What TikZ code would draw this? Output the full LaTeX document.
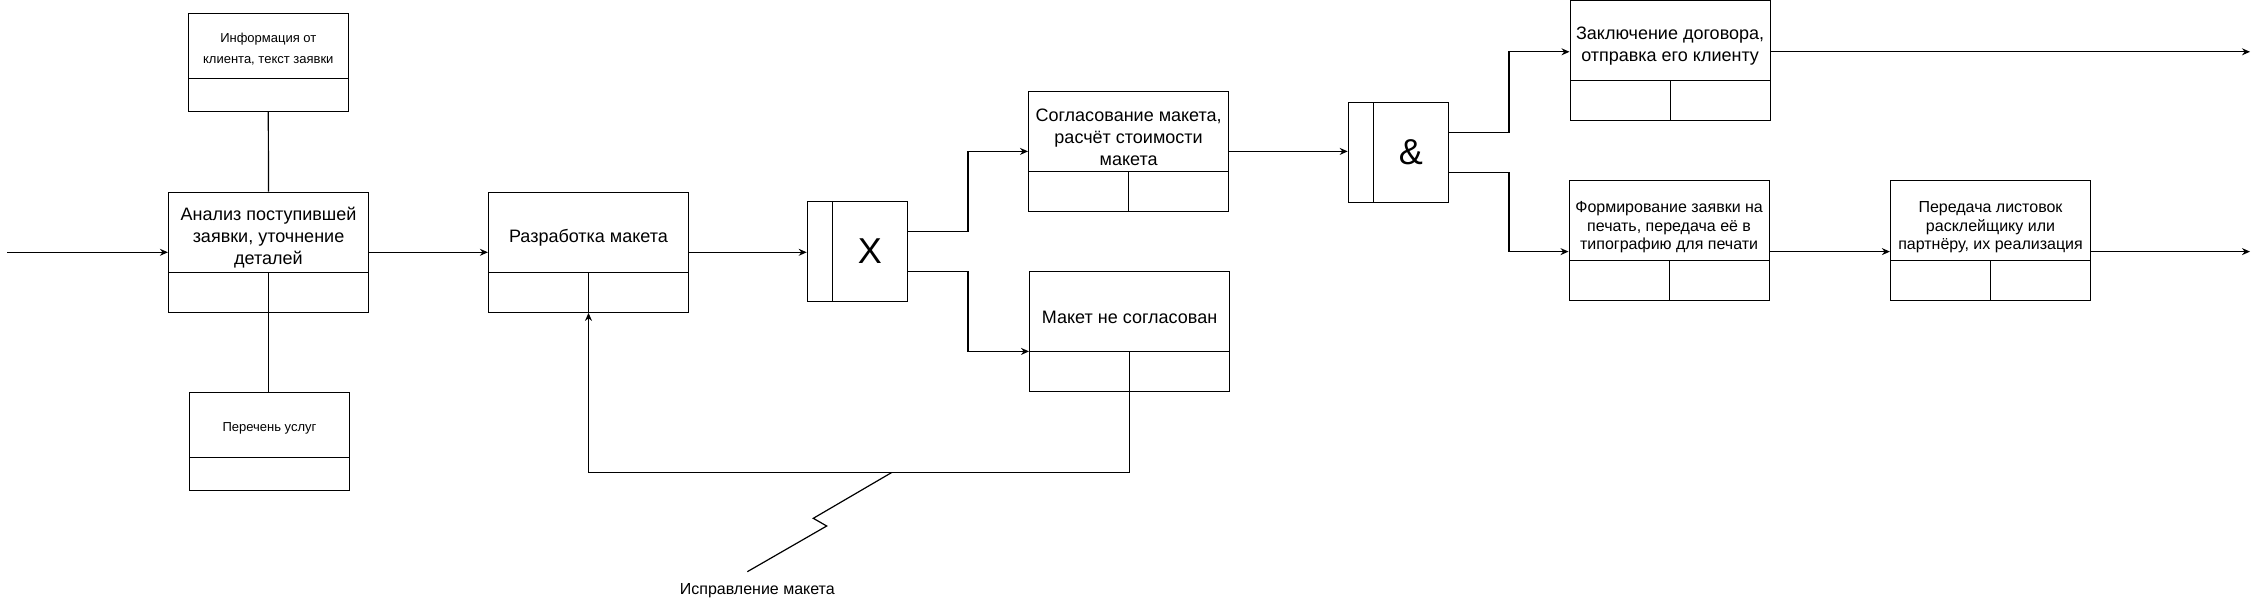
\documentclass[tikz,border=0pt]{standalone}
\usepackage{fontspec}
\setmainfont{Liberation Sans}
\usetikzlibrary{arrows.meta,calc}

\tikzset{
  uob/.style={draw, minimum width=200pt, minimum height=120pt, inner sep=0pt,
    path picture={
      \draw ([yshift=40pt]path picture bounding box.south west) -- ([yshift=40pt]path picture bounding box.south east);
      \draw (path picture bounding box.south) -- ([yshift=40pt]path picture bounding box.south);
    }},
  srcbox/.style={draw, minimum width=160pt, minimum height=98pt, inner sep=0pt,
    path picture={
      \draw ([yshift=33pt]path picture bounding box.south west) -- ([yshift=33pt]path picture bounding box.south east);
    }},
  gate/.style={draw, minimum size=100pt, inner sep=0pt,
    path picture={
      \draw ([xshift=25pt]path picture bounding box.south west) -- ([xshift=25pt]path picture bounding box.north west);
    }},
  txt/.style={align=center, inner sep=0pt, font=\fontsize{18}{22}\selectfont},
  midtxt/.style={align=center, inner sep=0pt, font=\fontsize{16}{18.5}\selectfont},
  smalltxt/.style={align=center, inner sep=0pt, font=\fontsize{13}{21.7}\selectfont},
  gatetxt/.style={inner sep=0pt, font=\fontsize{36}{40}\selectfont},
  arr/.style={-{Stealth[length=8pt,width=7pt]}},
}

\begin{document}
\begin{tikzpicture}[x=1pt, y=-1pt, line width=1.2pt]
    \useasboundingbox (0,0) rectangle (2257,603);
    % Входы и ресурсы
    \node[srcbox] (info) at (268.3,62.5) {};
    \node[smalltxt] (t-info) at ([yshift=13.5pt]info.center) {Информация от\\клиента, текст заявки};
    \node[srcbox] (perech) at (269.5,441.7) {};
    \node[smalltxt] (t-perech) at ([yshift=13.5pt]perech.center) {Перечень услуг};
    % Первый ряд работ
    \node[uob] (anl) at (268.5,252.3) {};
    \node[txt] (t-anl) at ([yshift=14.5pt]anl.center) {Анализ поступившей\\заявки, уточнение\\деталей};
    \node[uob] (razr) at (588.5,252.3) {};
    \node[txt] (t-razr) at ([yshift=14.5pt]razr.center) {Разработка макета};
    % Перекрёсток X
    \node[gate] (gx) at (857.3,251.5) {};
    \node[gatetxt] (t-gx) at ([xshift=12.5pt]gx.center) {X};
    \node[uob] (sogl) at (1128.6,151.4) {};
    \node[txt] (t-sogl) at ([yshift=14.5pt]sogl.center) {Согласование макета,\\расчёт стоимости\\макета};
    \node[uob] (nesog) at (1129.6,331.4) {};
    \node[txt] (t-nesog) at ([yshift=14.5pt]nesog.center) {Макет не согласован};
    % Перекрёсток &
    \node[gate] (ga) at (1398.3,152.3) {};
    \node[gatetxt] (t-ga) at ([xshift=12.5pt]ga.center) {\&};
    \node[uob] (zakl) at (1670.1,60.8) {};
    \node[txt] (t-zakl) at ([yshift=14.5pt]zakl.center) {Заключение договора,\\отправка его клиенту};
    \node[uob] (form) at (1669.1,240.6) {};
    \node[midtxt] (t-form) at ([yshift=13pt]form.center) {Формирование заявки на\\печать, передача её в\\типографию для печати};
    \node[uob] (pered) at (1990.5,240.6) {};
    \node[midtxt] (t-pered) at ([yshift=13pt]pered.center) {Передача листовок\\расклейщику или\\партнёру, их реализация};
    \node[midtxt] (fix) at (757.3,591) {Исправление макета};
    % Свободные концы стрелок
    \coordinate (src) at (7,252.3);
    \coordinate (out1) at (2250,51.8);
    \coordinate (out2) at (2250,251.6);
    \coordinate (fbk) at (588.5,472.5);
    \coordinate (fixpt) at (891.7,472.5);
    % Связи
    \draw (info.south) -- (anl.north);
    \draw (anl.south) -- (anl.south |- perech.north);
    \draw[arr] (src) -- (anl.west);
    \draw[arr] (anl.east) -- (razr.west);
    \draw[arr] (razr.east) -- (razr.east -| gx.west);
    \draw[arr] ([yshift=20pt]gx.east) -- ++(60,0) |- (sogl.west);
    \draw[arr] ([yshift=-20pt]gx.east) -- ++(60,0) |- ([yshift=-20pt]nesog.west);
    \draw[arr] (nesog.south) |- (fbk) -- (razr.south);
    \draw (fixpt) -- ++(-78.4,45.8) -- ++(13.4,7.7) -- ++(-79.4,45.7);
    \draw[arr] (sogl.east) -- (sogl.east -| ga.west);
    \draw[arr] ([yshift=20pt]ga.east) -- ++(60,0) |- (zakl.west |- out1);
    \draw[arr] ([yshift=-20pt]ga.east) -- ++(60,0) |- (form.west |- out2);
    \draw[arr] (zakl.east |- out1) -- (out1);
    \draw[arr] (form.east |- out2) -- (pered.west |- out2);
    \draw[arr] (pered.east |- out2) -- (out2);
\end{tikzpicture}
\end{document}
